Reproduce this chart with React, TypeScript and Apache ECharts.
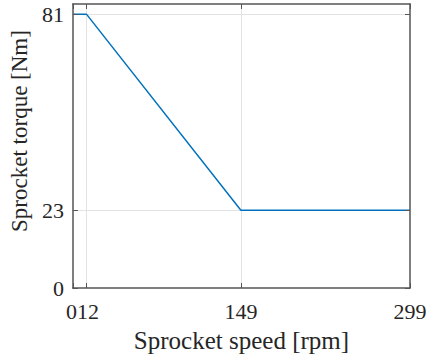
import React, { useEffect, useRef } from "react";
import * as echarts from "echarts";

const speedRpm = [0, 12, 149, 299];
const torqueNm = [81, 81, 23, 23];
const xTicks = [0, 12, 149, 299];
const xTicksMain = [0, 149, 299];
const xTicksCrowded = [12];
const yTicks = [0, 23, 81];
const xMax = 299;
const yMax = 84;

const FONT = "'Liberation Serif', 'Times New Roman', serif";
const TXT = "#262626";
const AX = "#555555";

export default function App() {
  const ref = useRef<HTMLDivElement>(null);
  useEffect(() => {
    const chart = echarts.init(ref.current!, null, { renderer: "svg" });
    const data = speedRpm.map((x, i) => [x, torqueNm[i]]);
    const gridLine = { color: "#e3e3e3", width: 1 };
    const tickLabel = { fontFamily: FONT, fontSize: 22, color: TXT };
    chart.setOption({
      animation: false,
      grid: { left: 72, right: 20, top: 4, bottom: 70 },
      xAxis: [
        {
          type: "value",
          min: 0,
          max: xMax,
          name: "Sprocket speed [rpm]",
          nameLocation: "middle",
          nameGap: 40,
          nameTextStyle: { fontFamily: FONT, fontSize: 25, color: TXT },
          axisLine: { show: true, onZero: false, lineStyle: { color: AX, width: 1.5 } },
          axisTick: { show: true, inside: true, length: 5, customValues: xTicks, lineStyle: { color: AX } },
          axisLabel: {
            customValues: xTicksMain,
            showMinLabel: true,
            showMaxLabel: true,
            ...tickLabel,
            formatter: (v: number) => (v === 0 ? "{l|0}" : String(v)),
            rich: { l: { ...tickLabel, padding: [0, 3, 0, 0] } },
            margin: 12,
          },
          splitLine: { show: false },
          z: 5,
        },
        {
          type: "value",
          position: "top",
          min: 0,
          max: xMax,
          axisLine: { show: true, onZero: false, lineStyle: { color: AX, width: 1.5 } },
          axisTick: { show: true, inside: true, length: 5, customValues: xTicks, lineStyle: { color: AX } },
          axisLabel: { show: false },
          splitLine: { show: false },
          z: 5,
        },
        {
          type: "value",
          position: "bottom",
          offset: 0,
          min: 0,
          max: xMax,
          axisLine: { show: false },
          axisTick: { show: false },
          axisLabel: {
            customValues: xTicksCrowded,
            ...tickLabel,
            padding: [0, 0, 0, 3],
            margin: 12,
          },
          splitLine: { show: false },
        },
      ],
      yAxis: [
        {
          type: "value",
          min: 0,
          max: yMax,
          name: "Sprocket torque [Nm]",
          nameLocation: "middle",
          nameGap: 38,
          nameTextStyle: { fontFamily: FONT, fontSize: 23, color: TXT, padding: [0, 0, 0, 30] },
          axisLine: { show: true, onZero: false, lineStyle: { color: AX, width: 1.5 } },
          axisTick: { show: true, inside: true, length: 5, customValues: yTicks, lineStyle: { color: AX } },
          axisLabel: {
            customValues: yTicks,
            showMinLabel: true,
            ...tickLabel,
            margin: 9,
          },
          splitLine: { show: false },
          z: 5,
        },
        {
          type: "value",
          position: "right",
          min: 0,
          max: yMax,
          axisLine: { show: true, onZero: false, lineStyle: { color: AX, width: 1.5 } },
          axisTick: { show: true, inside: true, length: 5, customValues: yTicks, lineStyle: { color: AX } },
          axisLabel: { show: false },
          splitLine: { show: false },
          z: 5,
        },
      ],
      series: [
        {
          type: "line",
          data,
          showSymbol: false,
          symbol: "none",
          lineStyle: { color: "#0072BD", width: 1.5 },
          z: 3,
          markLine: {
            silent: true,
            symbol: "none",
            label: { show: false },
            lineStyle: { ...gridLine, type: "solid" },
            z: 1,
            data: [
              ...xTicks.filter((v) => v > 0 && v < xMax).map((v) => ({ xAxis: v })),
              ...yTicks.filter((v) => v > 0 && v < yMax).map((v) => ({ yAxis: v })),
            ],
          },
        },
      ],
    });
    return () => chart.dispose();
  }, []);
  return (
    <div
      ref={ref}
      style={{ position: "absolute", left: 0, top: 0, width: 430, height: 358, background: "#fff" }}
    />
  );
}
